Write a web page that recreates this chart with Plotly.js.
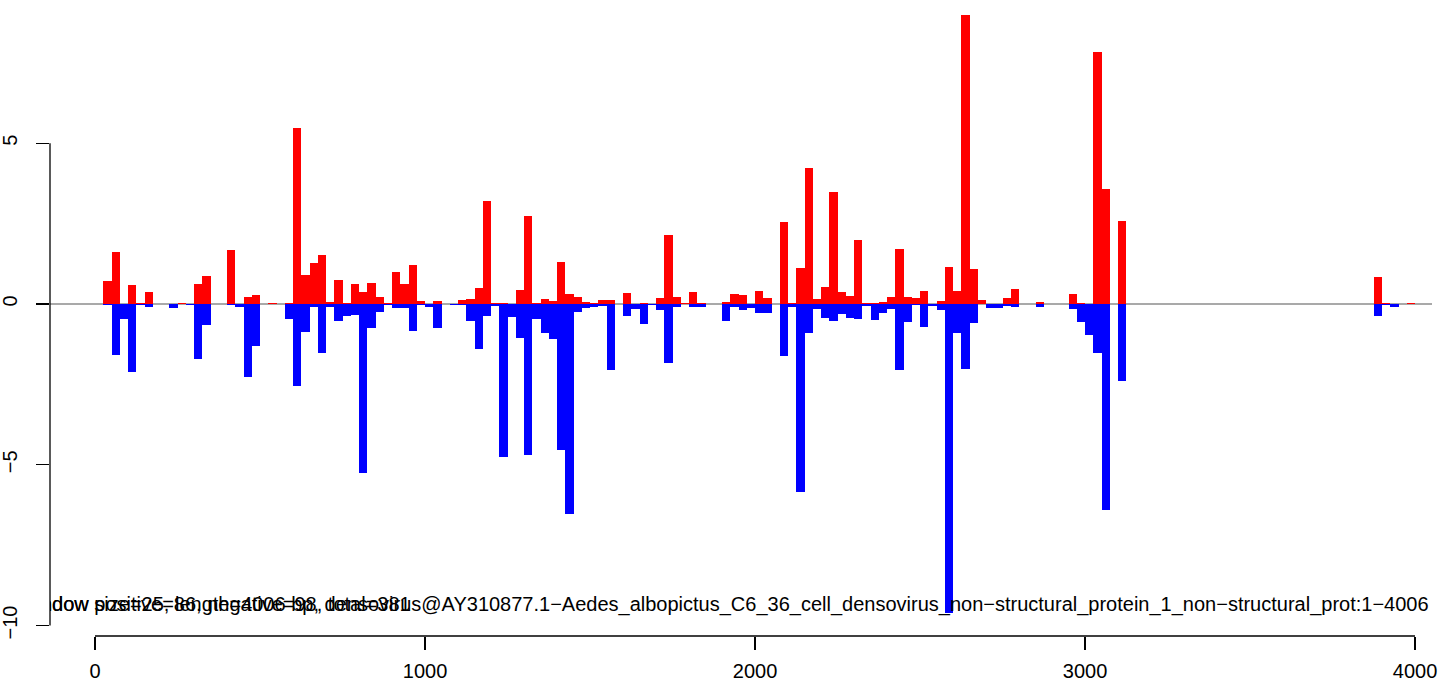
<!DOCTYPE html>
<html>
<head>
<meta charset="utf-8">
<script src="https://cdn.plot.ly/plotly-3.0.1.min.js"></script>
<style>
  html, body { margin: 0; padding: 0; background: #ffffff; }
  #chart { width: 1439px; height: 682px; }
</style>
</head>
<body>
<div id="chart"></div>
<script>
// ---- data (window size 25 along a 4006 nt sequence) ----
const WINDOW = 25;

const positiveValues = [
  0, 0.72, 1.62, 0, 0.59, 0.03, 0.37, 0, 0, 0,
  0.03, 0, 0.62, 0.87, 0, 0, 1.68, 0.01, 0.22, 0.28,
  0, 0.03, 0, 0.03, 5.47, 0.90, 1.28, 1.52, 0.06, 0.75,
  0.03, 0.62, 0.37, 0.65, 0.22, 0.03, 1.00, 0.62, 1.21, 0.09,
  0, 0.09, 0, 0, 0.12, 0.16, 0.50, 3.20, 0.03, 0.03,
  0, 0.44, 2.74, 0.03, 0.16, 0.09, 1.31, 0.31, 0.22, 0.06,
  0.03, 0.12, 0.12, 0, 0.34, 0, 0.03, 0, 0.19, 2.15,
  0.22, 0.03, 0.37, 0.03, 0.01, 0.01, 0.06, 0.31, 0.28, 0,
  0.40, 0.19, 0, 2.55, 0.03, 1.12, 4.23, 0.16, 0.53, 3.48,
  0.37, 0.25, 1.99, 0.03, 0.03, 0.06, 0.22, 1.71, 0.22, 0.19,
  0.40, 0, 0.09, 1.15, 0.40, 9.00, 1.09, 0.12, 0, 0,
  0.19, 0.47, 0, 0, 0.06, 0, 0, 0, 0.31, 0.03,
  0, 7.85, 3.58, 0, 2.58, 0, 0, 0, 0, 0,
  0, 0, 0, 0, 0, 0, 0, 0, 0, 0,
  0, 0, 0, 0, 0, 0, 0, 0, 0, 0,
  0, 0, 0, 0, 0, 0.84, 0.03, 0, 0, 0.03,
  0
];

const negativeValues = [
  0, -0.03, -1.59, -0.47, -2.10, -0.02, -0.09, 0, 0, -0.11,
  0, -0.02, -1.71, -0.64, 0, 0, -0.02, -0.08, -2.26, -1.30,
  0, 0, 0, -0.46, -2.55, -0.86, -0.08, -1.51, -0.08, -0.52,
  -0.36, -0.33, -5.26, -0.74, -0.24, -0.03, -0.11, -0.11, -0.83, -0.03,
  -0.08, -0.74, 0, -0.02, -0.02, -0.52, -1.39, -0.36, -0.05, -4.76,
  -0.39, -1.05, -4.70, -0.46, -0.89, -1.08, -4.54, -6.53, -0.24, -0.11,
  -0.08, -0.05, -2.04, 0, -0.36, -0.15, -0.61, -0.02, -0.18, -1.82,
  -0.08, 0, -0.08, -0.08, 0, 0, -0.52, -0.08, -0.18, -0.11,
  -0.27, -0.27, 0, -1.61, -0.08, -5.85, -0.89, -0.15, -0.43, -0.52,
  -0.30, -0.43, -0.46, -0.05, -0.49, -0.27, -0.15, -2.04, -0.55, -0.02,
  -0.70, -0.05, -0.18, -9.60, -0.89, -2.01, -0.58, 0, -0.11, -0.11,
  -0.05, -0.08, 0, 0, -0.08, 0, 0, 0, -0.15, -0.55,
  -0.95, -1.51, -6.40, 0, -2.39, 0, 0, 0, 0, 0,
  0, 0, 0, 0, 0, 0, 0, 0, 0, 0,
  0, 0, 0, 0, 0, 0, 0, 0, 0, 0,
  0, 0, 0, 0, 0, -0.36, -0.02, -0.08, 0, 0,
  0
];

const xTickValues = [0, 1000, 2000, 3000, 4000];
const yTickValues = [-10, -5, 0, 5];

const labelTexts = [
  "window size=25, length=4006 bp, densovirus@AY310877.1\u2212Aedes_albopictus_C6_36_cell_densovirus_non\u2212structural_protein_1_non\u2212structural_prot:1\u22124006",
  "window positive=86, negative=98, total=381"
];

// ---- derived ----
const windowCenters = positiveValues.map((_, i) => i * WINDOW + WINDOW / 2);

const LABEL_X = -221;
const LABEL_Y = -9.39;

const FONT = "Liberation Sans, Arial, Helvetica, sans-serif";

const traces = [
  {
    type: "scatter",
    mode: "text",
    x: labelTexts.map(() => LABEL_X),
    y: labelTexts.map(() => LABEL_Y),
    text: labelTexts,
    textposition: "middle right",
    textfont: { family: FONT, size: 20, color: "#000000" },
    cliponaxis: true,
    hoverinfo: "skip",
    showlegend: false
  },
  {
    type: "bar",
    x: windowCenters,
    y: positiveValues,
    width: WINDOW,
    marker: { color: "#ff0000", line: { width: 0 } },
    showlegend: false
  },
  {
    type: "bar",
    x: windowCenters,
    y: negativeValues,
    width: WINDOW,
    marker: { color: "#0000ff", line: { width: 0 } },
    showlegend: false
  }
];

const layout = {
  width: 1439,
  height: 682,
  margin: { l: 50, r: 7, t: 0, b: 46, pad: 0 },
  paper_bgcolor: "#ffffff",
  plot_bgcolor: "#ffffff",
  barmode: "overlay",
  bargap: 0,
  showlegend: false,
  font: { family: FONT, size: 20, color: "#000000" },
  xaxis: {
    range: [-136.4, 4051.5],
    showgrid: false,
    zeroline: false,
    showline: false,
    ticks: "outside",
    ticklen: 13,
    tickwidth: 1.3,
    tickcolor: "#000000",
    tickmode: "array",
    tickvals: xTickValues,
    ticktext: xTickValues.map(String),
    ticklabelstandoff: 4,
    tickfont: { family: FONT, size: 20, color: "#000000" },
    fixedrange: true
  },
  yaxis: {
    range: [-10.327, 9.456],
    showgrid: false,
    zeroline: false,
    showline: false,
    ticks: "outside",
    ticklen: 13,
    tickwidth: 1.3,
    tickcolor: "#000000",
    tickmode: "array",
    tickvals: yTickValues,
    tickangle: -90,
    ticklabelstandoff: 11,
    tickfont: { family: FONT, size: 20, color: "#000000" },
    fixedrange: true
  },
  shapes: [
    { type: "line", layer: "below", xref: "paper", yref: "y", x0: 0, x1: 1, y0: 0, y1: 0,
      line: { color: "#8c8c8c", width: 1.5 } },
    { type: "line", layer: "above", xref: "x", yref: "paper", x0: xTickValues[0], x1: xTickValues[xTickValues.length - 1], y0: 0, y1: 0,
      line: { color: "#000000", width: 1.3 } },
    { type: "line", layer: "above", xref: "paper", yref: "y", x0: 0, x1: 0, y0: yTickValues[0], y1: yTickValues[yTickValues.length - 1],
      line: { color: "#000000", width: 1.3 } }
  ]
};

Plotly.newPlot("chart", traces, layout, { displayModeBar: false, staticPlot: true });
</script>
</body>
</html>
